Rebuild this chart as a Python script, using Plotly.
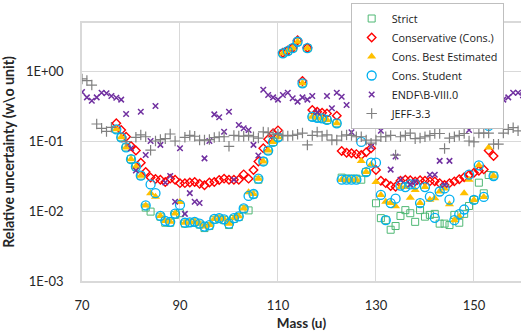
import plotly.graph_objects as go

# ---------------- data ----------------
strict_mass = [77, 78, 79, 80, 81, 82, 83, 84, 86, 87, 88, 89, 90, 91, 92, 93, 94, 95, 96, 97, 98, 99,
               100, 101, 102, 103, 104, 105, 106, 107, 108, 109, 110, 111, 112, 113, 114, 115, 116,
               117, 118, 119, 120, 122, 123, 124, 125, 126, 127, 128, 130, 131, 132, 133, 134, 135,
               136, 137, 138, 139, 140, 141, 142, 143, 144, 145, 146, 147, 148, 149, 150, 151, 152,
               153, 154]
strict_val = [0.147, 0.113, 0.081, 0.055, 0.043, 0.032, 0.0112, 0.0098, 0.0083, 0.0068, 0.0068, 0.0088,
              0.0093, 0.0066, 0.0068, 0.0069, 0.0064, 0.0057, 0.0061, 0.0075, 0.0078, 0.0074,
              0.0063, 0.0077, 0.0082, 0.0106, 0.0102, 0.0172, 0.028, 0.051, 0.073, 0.097, 0.113,
              1.79, 1.93, 2.12, 2.62, 0.667, 2.12,
              0.222, 0.215, 0.211, 0.200, 0.179, 0.030, 0.029, 0.029, 0.029, 0.028, 0.036,
              0.0129, 0.0079, 0.0074, 0.0054, 0.0061, 0.0085, 0.0103, 0.0093, 0.0070, 0.0103,
              0.0083, 0.0088, 0.0091, 0.0066, 0.0066, 0.0063, 0.0088, 0.0068, 0.0091, 0.0118,
              0.0144, 0.0254, 0.0179, 0.0327, 0.032]

cons_mass = list(range(77, 121)) + list(range(122, 155))
cons_val = [0.18, 0.144, 0.115, 0.085, 0.073, 0.049, 0.036, 0.030, 0.0286, 0.028, 0.026, 0.029, 0.028,
            0.025, 0.025, 0.0255, 0.026, 0.0245, 0.0233, 0.0255, 0.026, 0.0277, 0.029, 0.028,
            0.028, 0.028, 0.0334, 0.029, 0.0385, 0.051, 0.079, 0.106, 0.129, 0.142,
            1.82, 1.96, 2.15, 2.75, 0.72, 2.15, 0.277, 0.262, 0.254, 0.248,
            0.23, 0.072, 0.068, 0.067, 0.065, 0.063, 0.069, 0.079, 0.0385, 0.027, 0.025, 0.0228,
            0.0222, 0.027, 0.028, 0.0275, 0.0265, 0.0275, 0.027, 0.0265, 0.0265, 0.025, 0.0236,
            0.025, 0.0265, 0.0284, 0.0303, 0.0327, 0.0353, 0.0377, 0.0393, 0.073, 0.061]

best_mass = list(range(77, 121)) + list(range(122, 155))
best_val = [0.147, 0.113, 0.081, 0.055, 0.043, 0.032, 0.012, 0.018, 0.016, 0.0085, 0.0072, 0.0070,
            0.0092, 0.0135, 0.0068, 0.0069, 0.0070, 0.0066, 0.0060, 0.0063, 0.0077, 0.0079,
            0.0076, 0.0066, 0.0079, 0.0084, 0.0109, 0.0185, 0.0175, 0.029, 0.051, 0.073, 0.097,
            0.113, 1.79, 1.93, 2.12, 2.62, 0.667, 2.12, 0.222, 0.215, 0.211, 0.200,
            0.179, 0.028, 0.028, 0.028, 0.028, 0.052, 0.036, 0.046, 0.026, 0.017, 0.0136, 0.013,
            0.0117, 0.022, 0.022, 0.0155, 0.020, 0.013, 0.022, 0.0145, 0.0152, 0.019, 0.021,
            0.0125, 0.0074, 0.0083, 0.018, 0.028, 0.0144, 0.045, 0.0159, 0.081, 0.0316]

student_mass = list(range(77, 121)) + list(range(122, 155))
student_val = [0.147, 0.113, 0.081, 0.055, 0.043, 0.032, 0.012, 0.024, 0.018, 0.0085, 0.0072, 0.0070,
               0.0092, 0.0122, 0.0068, 0.0069, 0.0070, 0.0066, 0.0060, 0.0063, 0.0077, 0.0079,
               0.0076, 0.0066, 0.0079, 0.0084, 0.0109, 0.0164, 0.0175, 0.029, 0.051, 0.073, 0.097,
               0.113, 1.79, 1.93, 2.12, 2.62, 0.667, 2.12, 0.222, 0.215, 0.211, 0.200,
               0.179, 0.028, 0.028, 0.028, 0.028, 0.097, 0.036, 0.049, 0.049, 0.017, 0.0074, 0.013,
               0.015, 0.023, 0.022, 0.024, 0.024, 0.013, 0.022, 0.016, 0.0080, 0.019, 0.021,
               0.0145, 0.0074, 0.0090, 0.0105, 0.033, 0.0144, 0.045, 0.0159, 0.164, 0.0316]

endf_mass = [70, 71, 72, 73, 74, 75, 76, 77, 78, 79, 80, 81, 82, 83, 84, 85, 86, 87, 88, 89, 90, 91,
             92, 93, 94, 95, 96, 97, 98, 99, 100, 101, 102, 103, 104, 105, 106, 107, 108, 109, 110,
             111, 112, 113, 114, 115, 116, 117, 118, 120, 121, 122, 123, 124, 125, 126, 129, 131,
             133, 134, 135, 136, 137, 138, 141, 142, 143, 144, 145, 146, 148, 149, 156, 157, 158,
             159, 160]
endf_val = [0.50, 0.42, 0.377, 0.42, 0.49, 0.48, 0.44, 0.415, 0.39, 0.243, 0.079, 0.038, 0.262, 0.063,
            0.10, 0.316, 0.088, 0.0256, 0.0316, 0.0136, 0.079, 0.0091, 0.018, 0.0136, 0.013, 0.0565,
            0.10, 0.24, 0.218, 0.136, 0.262, 0.028, 0.169, 0.152, 0.144, 0.088, 0.062, 0.54, 0.454,
            0.42, 0.39, 0.454, 0.49, 0.407, 0.365, 0.42, 0.39, 0.44, 0.257, 0.44, 0.293, 0.49, 0.43,
            0.327, 0.133, 0.49, 0.083, 0.14, 0.039, 0.060, 0.028, 0.164, 0.024, 0.026, 0.033, 0.033,
            0.052, 0.0235, 0.052, 0.227, 0.211, 0.144, 0.39, 0.42, 0.49, 0.49, 0.45]

jeff_mass = [70, 71, 72, 73, 74, 75, 76, 79, 81, 82, 83, 84, 85, 86, 87, 88, 89, 91, 92, 93, 94, 95,
             96, 97, 98, 99, 100, 101, 102, 103, 104, 105, 106, 107, 108, 109, 110, 111, 112, 113,
             114, 115, 116, 117, 118, 119, 120, 121, 122, 123, 124, 125, 126, 127, 128, 129, 130,
             131, 132, 133, 134, 135, 136, 137, 138, 139, 140, 141, 142, 143, 144, 145, 146, 147,
             148, 149, 150, 151, 152, 153, 154, 155, 156, 157, 158, 159]
jeff_val = [0.77, 0.73, 0.63, 0.175, 0.152, 0.137, 0.157, 0.098, 0.113, 0.122, 0.115, 0.074, 0.10,
            0.105, 0.108, 0.126, 0.10, 0.113, 0.12, 0.117, 0.103, 0.103, 0.105, 0.112, 0.115, 0.115,
            0.084, 0.12, 0.118, 0.117, 0.12, 0.115, 0.11, 0.135, 0.132, 0.125, 0.125, 0.12, 0.118,
            0.12, 0.125, 0.13, 0.088, 0.12, 0.135, 0.118, 0.122, 0.103, 0.103, 0.118, 0.122, 0.12,
            0.115, 0.115, 0.103, 0.093, 0.103, 0.115, 0.115, 0.12, 0.063, 0.115, 0.12, 0.13, 0.108,
            0.11, 0.115, 0.12, 0.128, 0.128, 0.078, 0.11, 0.115, 0.12, 0.128, 0.10, 0.097, 0.13,
            0.13, 0.13, 0.09, 0.09, 0.13, 0.147, 0.155, 0.14]

y_tick_vals = [0.001, 0.01, 0.1, 1]
y_tick_text = ["1E-03", "1E-02", "1E-01", "1E+00"]
x_tick_vals = [70, 90, 110, 130, 150]

# ---------------- figure ----------------
FONT = "Lato, 'Open Sans', sans-serif"
LEG_FONT = "'Open Sans', Lato, sans-serif"
fig = go.Figure()

fig.add_trace(go.Scatter(x=strict_mass, y=strict_val, mode="markers", name="Strict",
                         marker=dict(symbol="square-open", size=7, color="#4fb874",
                                     line=dict(width=1, color="#4fb874"))))
fig.add_trace(go.Scatter(x=cons_mass, y=cons_val, mode="markers", name="Conservative (Cons.)",
                         marker=dict(symbol="diamond-open", size=6.5, color="#ff0000",
                                     line=dict(width=1.4, color="#ff0000"))))
fig.add_trace(go.Scatter(x=best_mass, y=best_val, mode="markers", name="Cons. Best Estimated",
                         marker=dict(symbol="triangle-up", size=8, color="#ffc000",
                                     line=dict(width=0))))
fig.add_trace(go.Scatter(x=student_mass, y=student_val, mode="markers", name="Cons. Student",
                         marker=dict(symbol="circle-open", size=9, color="#00b0f0",
                                     line=dict(width=1.3, color="#00b0f0"))))
fig.add_trace(go.Scatter(x=endf_mass, y=endf_val, mode="markers", name="ENDF\\B-VIII.0",
                         marker=dict(symbol="x-thin", size=5.5, color="#7030a0",
                                     line=dict(width=1.5, color="#7030a0"))))
fig.add_trace(go.Scatter(x=jeff_mass, y=jeff_val, mode="markers", name="JEFF-3.3",
                         marker=dict(symbol="cross-thin", size=7.5, color="#808080",
                                     line=dict(width=1.2, color="#808080"))))

fig.update_layout(
    width=521, height=334,
    margin=dict(l=82, r=0, t=23, b=53),
    paper_bgcolor="white", plot_bgcolor="white",
    font=dict(family=FONT, size=13, color="#262626"),
    showlegend=True,
    legend=dict(x=0.612, y=1.0775, xanchor="left", yanchor="top",
                bgcolor="white", bordercolor="#bfbfbf", borderwidth=1,
                font=dict(family=LEG_FONT, size=10.8, color="#1a1a1a"),
                itemwidth=30, tracegroupgap=0),
    xaxis=dict(range=[70, 159.6], tickvals=x_tick_vals, showgrid=True, gridcolor="#d9d9d9",
               gridwidth=1, zeroline=False, showline=True, linecolor="#d9d9d9", linewidth=1.5,
               mirror=True, ticks="", ticklabelstandoff=12,
               tickfont=dict(family=FONT, size=13, color="#262626"),
               title=dict(text="<b>Mass (u)</b>", standoff=6,
                          font=dict(family=FONT, size=13.5, color="#262626"))),
    yaxis=dict(type="log", range=[-3, 0.686], tickvals=y_tick_vals, ticktext=y_tick_text,
               showgrid=True, gridcolor="#d9d9d9", gridwidth=1, zeroline=False, showline=True,
               linecolor="#d9d9d9", linewidth=1.5, ticks="", ticklabelstandoff=14,
               tickfont=dict(family=FONT, size=13, color="#262626"),
               title=dict(text="<b>Relative uncertainty (w\\o unit)</b>", standoff=8,
                          font=dict(family=FONT, size=14.2, color="#262626"))),
)

fig.write_html("out.html")
